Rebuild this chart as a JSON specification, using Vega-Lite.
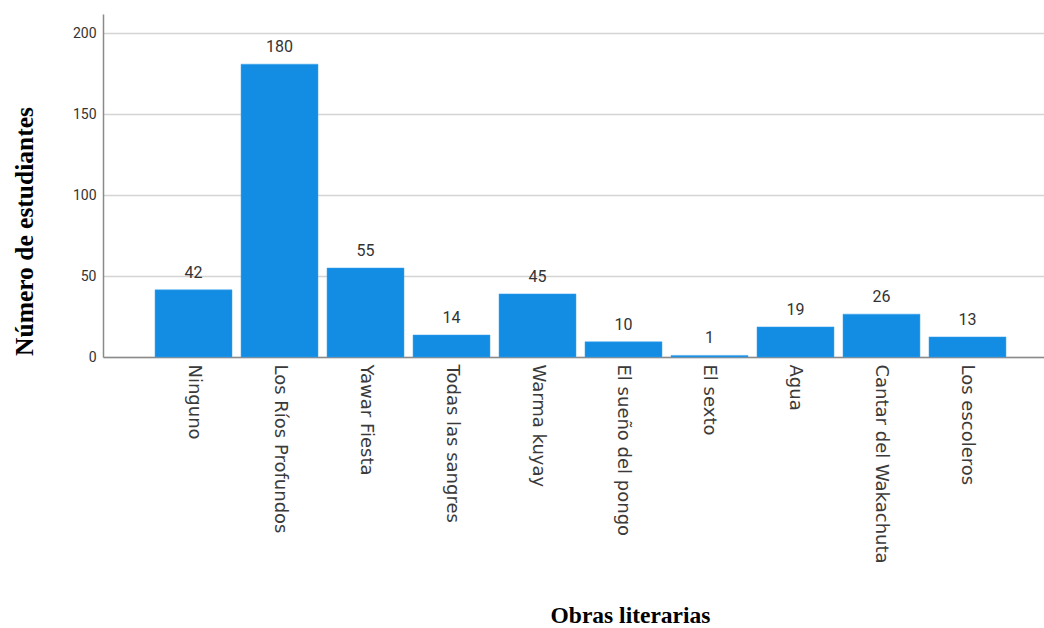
{
  "$schema": "https://vega.github.io/schema/vega-lite/v6.json",
  "width": 941,
  "height": 343,
  "autosize": {"type": "none"},
  "padding": {"left": 103, "top": 14, "right": 0, "bottom": 271},
  "background": "white",
  "data": {"values": [
    {"obra": "Ninguno", "n": 41.5, "etiqueta": "42"},
    {"obra": "Los Ríos Profundos", "n": 181, "etiqueta": "180"},
    {"obra": "Yawar Fiesta", "n": 55, "etiqueta": "55"},
    {"obra": "Todas las sangres", "n": 13.6, "etiqueta": "14"},
    {"obra": "Warma kuyay", "n": 39, "etiqueta": "45"},
    {"obra": "El sueño del pongo", "n": 9.4, "etiqueta": "10"},
    {"obra": "El sexto", "n": 1, "etiqueta": "1"},
    {"obra": "Agua", "n": 18.6, "etiqueta": "19"},
    {"obra": "Cantar del Wakachuta", "n": 26.5, "etiqueta": "26"},
    {"obra": "Los escoleros", "n": 12.4, "etiqueta": "13"}
  ]},
  "encoding": {
    "x": {
      "field": "obra", "type": "nominal", "sort": null,
      "scale": {"range": [0, 955], "paddingInner": 0.105, "paddingOuter": 0.605},
      "axis": {
        "title": "Obras literarias",
        "titleFont": "Liberation Serif", "titleFontSize": 23.5, "titleFontWeight": "bold", "titleColor": "#000",
        "titleX": 527, "titleY": 258, "titleBaseline": "middle", "titleAnchor": "start", "titleAlign": "center",
        "labelAngle": 90, "labelAlign": "left", "labelBaseline": "middle",
        "labelFont": "DejaVu Sans", "labelFontSize": 18, "labelColor": "#3a3a3a", "labelPadding": 7, "labelLimit": 0,
        "ticks": false, "domainColor": "#8a8a8a", "domainWidth": 1.5, "grid": false
      }
    }
  },
  "layer": [
    {
      "mark": {"type": "bar", "color": "#138de3", "stroke": "#3aa3ee", "strokeWidth": 0.5},
      "encoding": {
        "y": {
          "field": "n", "type": "quantitative",
          "scale": {"domain": [0, 212], "nice": false},
          "axis": {
            "title": "Número de estudiantes",
            "titleFont": "Liberation Serif", "titleFontSize": 25.5, "titleFontWeight": "bold", "titleColor": "#000",
            "titleX": -79, "titleY": 217, "titleAnchor": "start", "titleAlign": "center", "titleBaseline": "middle",
            "values": [0, 50, 100, 150, 200],
            "labelFont": "Roboto", "labelFontSize": 14, "labelColor": "#333", "labelPadding": 7,
            "ticks": false, "domainColor": "#8a8a8a", "domainWidth": 1.5,
            "gridColor": "#d4d4d4", "gridWidth": 1.5
          }
        }
      }
    },
    {
      "mark": {"type": "text", "baseline": "middle", "dy": -17, "font": "Roboto", "fontSize": 16, "color": "#333"},
      "encoding": {
        "y": {"field": "n", "type": "quantitative"},
        "text": {"field": "etiqueta", "type": "nominal"}
      }
    }
  ],
  "config": {"view": {"stroke": null}}
}
